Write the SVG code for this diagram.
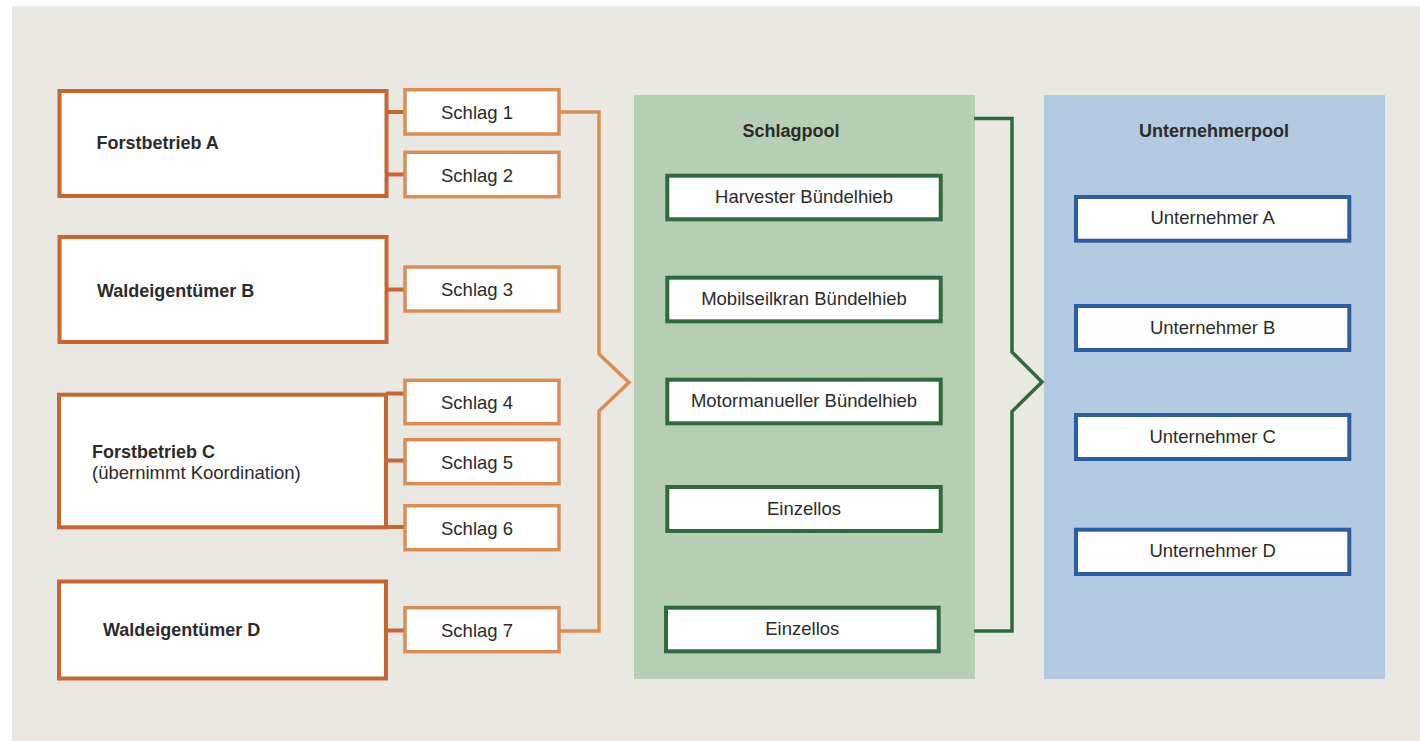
<svg xmlns="http://www.w3.org/2000/svg" width="1420" height="741" viewBox="0 0 1420 741">
<style>
.t{font-family:"Liberation Sans",Arial,sans-serif;font-size:18.5px;fill:#2b2b2b}
.b{font-weight:bold;font-size:18px}
.m{text-anchor:middle}
.own{fill:#fff;stroke:#C9652F;stroke-width:4}
.sch{fill:#fff;stroke:#DA8D55;stroke-width:3.5}
.grn{fill:#fff;stroke:#2E6A3E;stroke-width:4}
.blu{fill:#fff;stroke:#2C5E9F;stroke-width:4}
</style>
<rect x="0" y="0" width="1420" height="741" fill="#fff"/>
<rect x="12" y="6" width="1408" height="735" fill="#EAE8E3"/>
<rect id="schlagpool-bg" x="634" y="95" width="341" height="584" fill="#B6CEB4"/>
<rect id="unternehmerpool-bg" x="1044" y="95" width="341" height="584" fill="#B2C9DF"/>
<g id="connectors" fill="none">
<g stroke="#C9652F" stroke-width="4">
<line x1="386" y1="112" x2="405" y2="112"/>
<line x1="386" y1="174.5" x2="405" y2="174.5"/>
<line x1="386" y1="289.5" x2="405" y2="289.5"/>
<line x1="386" y1="393.5" x2="405" y2="393.5"/>
<line x1="386" y1="460.5" x2="405" y2="460.5"/>
<line x1="386" y1="527" x2="405" y2="527"/>
<line x1="386" y1="630.5" x2="405" y2="630.5"/>
</g>
<polyline points="559,112 599,112 599,354 629,382.5 599,411 599,631 559,631" stroke="#DA8D55" stroke-width="3.5"/>
<polyline points="974,118.5 1012,118.5 1012,352 1042,382 1012,411.5 1012,631 974,631" stroke="#2E6A3E" stroke-width="3.5"/>
</g>
<g id="forstbetrieb-a"><rect class="own" x="59.5" y="91" width="327" height="105"/><text class="t b" x="96.5" y="149">Forstbetrieb A</text></g>
<g id="waldeigentuemer-b"><rect class="own" x="59.5" y="237" width="327" height="105"/><text class="t b" x="97" y="297">Waldeigentümer B</text></g>
<g id="forstbetrieb-c"><rect class="own" x="59" y="394.7" width="327" height="132.6"/><text class="t b" x="92" y="458">Forstbetrieb C</text><text class="t" x="92" y="479">(übernimmt Koordination)</text></g>
<g id="waldeigentuemer-d"><rect class="own" x="59" y="581.5" width="327" height="97"/><text class="t b" x="103" y="636">Waldeigentümer D</text></g>
<g id="schlag-1"><rect class="sch" x="405" y="89.7" width="154" height="44.3"/><text class="t m" x="477" y="119">Schlag 1</text></g>
<g id="schlag-2"><rect class="sch" x="405" y="152.3" width="154" height="44.4"/><text class="t m" x="477" y="181.5">Schlag 2</text></g>
<g id="schlag-3"><rect class="sch" x="405" y="267" width="154" height="44"/><text class="t m" x="477" y="296">Schlag 3</text></g>
<g id="schlag-4"><rect class="sch" x="405" y="380.3" width="154" height="43.4"/><text class="t m" x="477" y="409">Schlag 4</text></g>
<g id="schlag-5"><rect class="sch" x="405" y="439.7" width="154" height="44"/><text class="t m" x="477" y="469">Schlag 5</text></g>
<g id="schlag-6"><rect class="sch" x="405" y="505.7" width="154" height="44"/><text class="t m" x="477" y="534.5">Schlag 6</text></g>
<g id="schlag-7"><rect class="sch" x="405" y="607.7" width="154" height="44"/><text class="t m" x="477" y="637">Schlag 7</text></g>
<g id="schlagpool"><text class="t b m" x="791" y="136.5">Schlagpool</text></g>
<g id="harvester"><rect class="grn" x="667.3" y="175.7" width="273.4" height="43.6"/><text class="t m" x="804" y="203">Harvester Bündelhieb</text></g>
<g id="mobilseilkran"><rect class="grn" x="667.3" y="277.7" width="273.4" height="43.6"/><text class="t m" x="804" y="305">Mobilseilkran Bündelhieb</text></g>
<g id="motormanueller"><rect class="grn" x="667.3" y="379.7" width="273.4" height="43.6"/><text class="t m" x="804" y="407">Motormanueller Bündelhieb</text></g>
<g id="einzellos-1"><rect class="grn" x="667.3" y="487" width="273.4" height="44"/><text class="t m" x="804" y="514.5">Einzellos</text></g>
<g id="einzellos-2"><rect class="grn" x="666" y="607.7" width="272.7" height="43.6"/><text class="t m" x="802.3" y="634.5">Einzellos</text></g>
<g id="unternehmerpool"><text class="t b m" x="1214" y="136.5">Unternehmerpool</text></g>
<g id="unternehmer-a"><rect class="blu" x="1076" y="197" width="273.3" height="43.7"/><text class="t m" x="1212.7" y="224">Unternehmer A</text></g>
<g id="unternehmer-b"><rect class="blu" x="1076" y="306" width="273.3" height="44"/><text class="t m" x="1212.7" y="333.5">Unternehmer B</text></g>
<g id="unternehmer-c"><rect class="blu" x="1076" y="415" width="273.3" height="44"/><text class="t m" x="1212.7" y="442.5">Unternehmer C</text></g>
<g id="unternehmer-d"><rect class="blu" x="1076" y="529.7" width="273.3" height="44.3"/><text class="t m" x="1212.7" y="557">Unternehmer D</text></g>
</svg>
